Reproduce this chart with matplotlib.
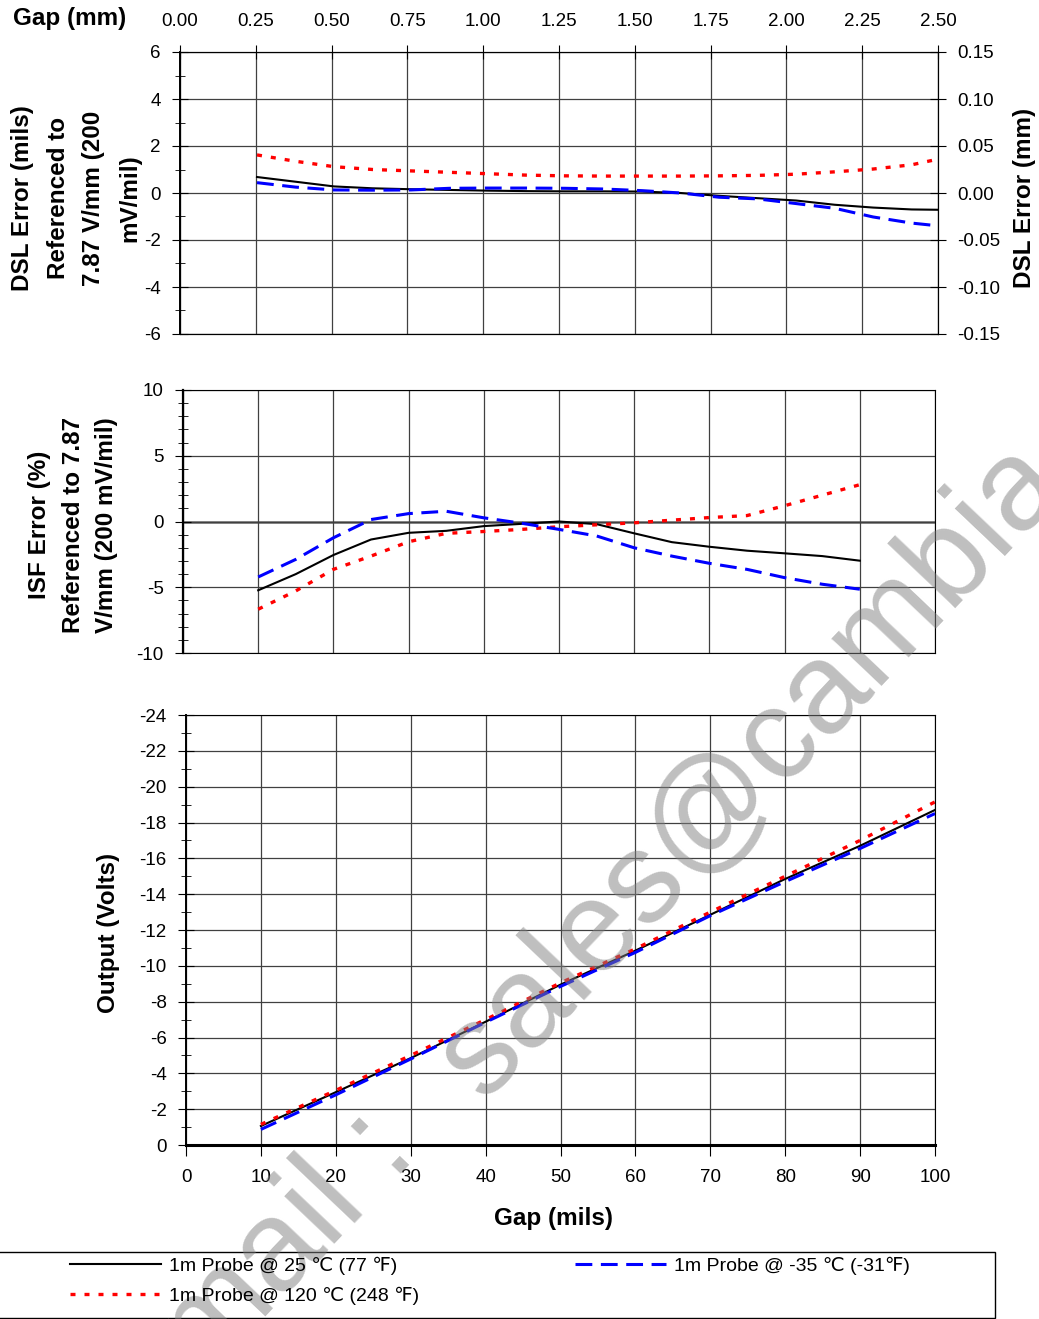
import numpy as np
import matplotlib
matplotlib.use('Agg')
import matplotlib.pyplot as plt
from matplotlib.ticker import MultipleLocator, FormatStrFormatter
from matplotlib.patches import Rectangle

plt.rcParams['font.family'] = ['Liberation Sans', 'DejaVu Sans']
plt.rcParams['axes.unicode_minus'] = False

# ---- data ----
series_labels = ['1m Probe @ 25 ℃ (77 ℉)',
                 '1m Probe @ 120 ℃ (248 ℉)',
                 '1m Probe @ -35 ℃ (-31℉)']

# DSL error (mils) vs gap (mils)
dsl_gap_mils = [10, 15, 20, 25, 30, 35, 40, 45, 50, 55, 60, 65, 70, 75, 80, 85, 90, 95, 100]
dsl_25 = [0.68, 0.48, 0.28, 0.20, 0.16, 0.13, 0.10, 0.08, 0.07, 0.07, 0.06, 0.00,
          -0.12, -0.22, -0.32, -0.50, -0.62, -0.70, -0.72]
dsl_120 = [1.62, 1.35, 1.12, 1.00, 0.94, 0.88, 0.82, 0.76, 0.73, 0.72, 0.72, 0.72,
           0.73, 0.75, 0.80, 0.90, 1.02, 1.20, 1.55]
dsl_m35 = [0.44, 0.25, 0.13, 0.12, 0.13, 0.20, 0.21, 0.21, 0.20, 0.17, 0.10, 0.00,
           -0.18, -0.25, -0.45, -0.65, -1.02, -1.28, -1.45]

# ISF error (%) vs gap (mils)
isf_gap = [10, 15, 20, 25, 30, 35, 40, 45, 50, 55, 60, 65, 70, 75, 80, 85, 90]
isf_25 = [-5.23, -4.00, -2.55, -1.37, -0.86, -0.71, -0.35, -0.18, 0.00, -0.20, -0.90,
          -1.57, -1.92, -2.22, -2.42, -2.63, -2.98]
isf_120 = [-6.67, -5.28, -3.64, -2.63, -1.54, -0.90, -0.76, -0.60, -0.40, -0.25, -0.10,
           0.10, 0.30, 0.45, 1.20, 2.00, 2.80]
isf_m35 = [-4.22, -2.88, -1.24, 0.15, 0.60, 0.78, 0.28, -0.13, -0.60, -1.10, -2.00,
           -2.63, -3.18, -3.64, -4.27, -4.77, -5.15]

# Output (V) vs gap (mils)
out_gap = [10, 20, 30, 40, 50, 60, 70, 80, 90, 100]
out_25 = [-1.06, -2.95, -4.85, -6.88, -8.95, -10.85, -12.85, -14.85, -16.70, -18.70]
out_120 = [-1.15, -3.05, -5.00, -7.00, -9.05, -10.95, -13.00, -15.00, -17.00, -19.15]
out_m35 = [-0.87, -2.80, -4.80, -6.85, -8.85, -10.75, -12.80, -14.70, -16.55, -18.50]

W, H = 1039, 1319
fig = plt.figure(figsize=(W / 100, H / 100), dpi=100)


def box(l, t, r, b):
    return [l / W, 1 - b / H, (r - l) / W, (b - t) / H]


styles = [dict(color='black', lw=1.5, ls='-'),
          dict(color='#ff0000', lw=2.4, ls=(0, (1.5, 2.7))),
          dict(color='#0000ff', lw=2.2, ls=(0, (5.5, 2.8)))]
grid_kw = dict(color='#404040', lw=0.9)
TS = 13.5

# ---- panel 1: DSL error ----
ax1 = fig.add_axes(box(180, 52, 938, 334))
dsl_mm = np.array(dsl_gap_mils) * 0.0254
for y, st in zip([dsl_25, dsl_120, dsl_m35], styles):
    ax1.plot(dsl_mm, y, **st)
ax1.set_xlim(0, 2.5)
ax1.set_ylim(-6, 6)
ax1.xaxis.set_major_locator(MultipleLocator(0.25))
ax1.xaxis.set_major_formatter(FormatStrFormatter('%.2f'))
ax1.xaxis.tick_top()
ax1.tick_params(axis='x', which='major', direction='inout', length=10, pad=11, labelsize=TS)
ax1.yaxis.set_major_locator(MultipleLocator(2))
ax1.yaxis.set_minor_locator(MultipleLocator(1))
ax1.tick_params(axis='y', which='major', direction='inout', length=12, pad=8, labelsize=TS)
ax1.tick_params(axis='y', which='minor', direction='inout', length=7)
ax1.grid(True, which='major', **grid_kw)
ax1.spines['left'].set_linewidth(1.4)

ax1r = ax1.twinx()
ax1r.set_ylim(-0.15, 0.15)
ax1r.set_yticks(np.round(np.arange(-0.15, 0.151, 0.05), 2) + 0.0)
ax1r.yaxis.set_major_formatter(FormatStrFormatter('%.2f'))
ax1r.tick_params(axis='y', direction='inout', length=12, pad=8, labelsize=TS)

# ---- panel 2: ISF error ----
ax2 = fig.add_axes(box(183, 390, 935, 653))
ax2.axhline(0, color='#808080', lw=2, zorder=1.5)
for y, st in zip([isf_25, isf_120, isf_m35], styles):
    ax2.plot(isf_gap, y, **st)
ax2.set_xlim(0, 100)
ax2.set_ylim(-10, 10)
ax2.xaxis.set_major_locator(MultipleLocator(10))
ax2.tick_params(axis='x', length=0, labelbottom=False)
ax2.yaxis.set_major_locator(MultipleLocator(5))
ax2.yaxis.set_minor_locator(MultipleLocator(1))
ax2.tick_params(axis='y', which='major', direction='inout', length=12, pad=8, labelsize=TS)
ax2.tick_params(axis='y', which='minor', direction='inout', length=7)
ax2.grid(True, which='major', **grid_kw)
ax2.spines['left'].set_linewidth(1.6)

# ---- panel 3: output ----
ax3 = fig.add_axes(box(186, 715, 935, 1145))
lines = []
for y, st in zip([out_25, out_120, out_m35], styles):
    lines.append(ax3.plot(out_gap, y, **st)[0])
ax3.set_xlim(0, 100)
ax3.set_ylim(0, -24)
ax3.xaxis.set_major_locator(MultipleLocator(10))
ax3.tick_params(axis='x', direction='out', length=8, pad=9, labelsize=TS)
ax3.yaxis.set_major_locator(MultipleLocator(2))
ax3.yaxis.set_minor_locator(MultipleLocator(1))
ax3.tick_params(axis='y', which='major', direction='inout', length=12, pad=8, labelsize=TS)
ax3.tick_params(axis='y', which='minor', direction='inout', length=7)
ax3.grid(True, which='major', **grid_kw)
ax3.spines['bottom'].set_linewidth(2.2)
ax3.spines['left'].set_linewidth(1.4)

# ---- axis titles ----
lab = dict(fontsize=17.5, fontweight='bold', ha='center', va='center', multialignment='center')
fig.text(70 / W, 1 - 18 / H, 'Gap (mm)', **lab)
fig.text(76 / W, 1 - 198 / H, 'DSL Error (mils)\nReferenced to\n7.87 V/mm (200\nmV/mil)',
         rotation=90, linespacing=1.7, **lab)
fig.text(1025 / W, 1 - 198 / H, 'DSL Error (mm)', rotation=90, **lab)
fig.text(73 / W, 1 - 525 / H, 'ISF Error (%)\nReferenced to 7.87\nV/mm (200 mV/mil)',
         rotation=90, linespacing=1.6, **lab)
fig.text(108 / W, 1 - 933 / H, 'Output (Volts)', rotation=90, **lab)
fig.text(553 / W, 1 - 1218 / H, 'Gap (mils)', **lab)

# ---- legend ----
leg_kw = dict(loc='upper left', frameon=False, borderpad=0, borderaxespad=0,
              handlelength=4.7, handletextpad=0.4, labelspacing=0.6, fontsize=14)
fig.legend(lines[:2], series_labels[:2], bbox_to_anchor=(70 / W, 1 - 1257 / H), **leg_kw)
fig.legend(lines[2:], series_labels[2:], bbox_to_anchor=(575 / W, 1 - 1257 / H), **leg_kw)
fig.add_artist(Rectangle((-2 / W, 1 - 1318 / H), 997 / W, 66 / H, transform=fig.transFigure,
                         fill=False, ec='black', lw=1))

# ---- watermark ----
wm = dict(fontsize=93, color='#808080', alpha=0.5, rotation=46.5, rotation_mode='anchor',
          va='baseline', family='Liberation Sans')
fig.text(484 / W, 1 - 1102 / H, 'sales@cambia.com', ha='left', **wm)
fig.text(418 / W, 1 - 1156 / H, 'Email :', ha='right', **wm)

fig.savefig('out.png', dpi=100)
